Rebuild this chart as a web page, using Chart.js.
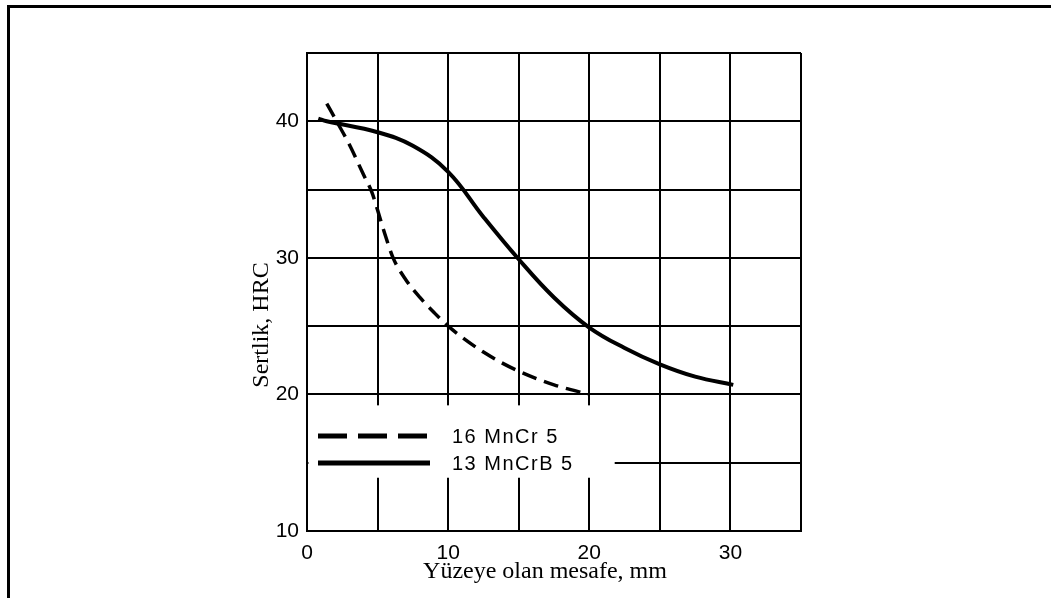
<!DOCTYPE html>
<html>
<head>
<meta charset="utf-8">
<script src="https://cdn.jsdelivr.net/npm/chart.js@4.4.1/dist/chart.umd.min.js"></script>
<style>
  html, body { margin: 0; padding: 0; background: #fff; }
  #wrap { position: relative; width: 1051px; height: 598px; overflow: hidden; }
  #frame { position: absolute; left: 7px; top: 5px; right: -10px; bottom: -10px;
           border-top: 3px solid #000; border-left: 3px solid #000; pointer-events: none; }
  canvas { position: absolute; left: 0; top: 0; }
</style>
</head>
<body>
<div id="wrap">
  <canvas id="c" width="1051" height="598"></canvas>
  <div id="frame"></div>
</div>
<script>
// ---- data ----
const xTitle = 'Yüzeye olan mesafe, mm';
const yTitle = 'Sertlik, HRC';
const seriesNames = ['16 MnCr 5', '13 MnCrB 5'];

const mncrX = [1.4, 2.1, 3, 4, 4.6, 5, 5.5, 6.1, 7, 8, 9, 10, 12.5, 15, 17.5, 20];
const mncrY = [41.3, 40.0, 38.3, 36.1, 34.8, 33.5, 31.8, 30.0, 28.4, 27.1, 26.0, 25.0, 23.1, 21.7, 20.7, 20.0];

const mncrbX = [0.8, 1.4, 5, 7.5, 10, 12.5, 15, 17.5, 20, 22.5, 25, 27.5, 30.2];
const mncrbY = [40.2, 40.0, 39.2, 38.2, 36.3, 33.0, 29.9, 27.1, 24.9, 23.4, 22.2, 21.3, 20.7];

const xTickLabels = [0, 10, 20, 30];
const yTickLabels = [10, 20, 30, 40];

// ---- build ----
const toPts = (xs, ys) => xs.map((v, i) => ({ x: v, y: ys[i] }));

const insideLegend = {
  id: 'insideLegend',
  beforeDatasetsDraw(chart) {
    const { ctx, chartArea: a, scales: { x, y } } = chart;
    const left = a.left + 1.5;
    const right = x.getPixelForValue(21.8);
    const top = y.getPixelForValue(19.2);
    const bottom = y.getPixelForValue(13.9);
    ctx.save();
    ctx.fillStyle = '#fff';
    ctx.fillRect(left, top, right - left, bottom - top);
    ctx.restore();
  },
  afterDatasetsDraw(chart) {
    const { ctx, chartArea: a } = chart;
    const rows = [a.top + 383, a.top + 410];
    const x0 = a.left + 11, x1 = a.left + 123, tx = a.left + 145;
    ctx.save();
    chart.data.datasets.forEach((ds, i) => {
      ctx.beginPath();
      ctx.lineWidth = 5;
      ctx.strokeStyle = '#000';
      ctx.lineCap = 'butt';
      ctx.setLineDash(i === 0 ? [29, 11] : []);
      ctx.moveTo(x0, rows[i]);
      ctx.lineTo(x1, rows[i]);
      ctx.stroke();
      ctx.setLineDash([]);
      ctx.fillStyle = '#000';
      ctx.font = '20px "Liberation Sans", Arial, sans-serif';
      ctx.textBaseline = 'middle';
      ctx.textAlign = 'left';
      if ('letterSpacing' in ctx) ctx.letterSpacing = '1.5px';
      ctx.fillText(ds.label, tx, rows[i] + 1);
    });
    ctx.restore();
  },
  afterDraw(chart) {
    const { ctx, chartArea: a } = chart;
    ctx.save();
    ctx.fillStyle = '#000';
    ctx.font = '24px "Liberation Serif", "Times New Roman", serif';
    ctx.textAlign = 'center';
    ctx.textBaseline = 'middle';
    ctx.fillText(xTitle, a.left + 238, a.bottom + 41);
    ctx.translate(a.left - 45, a.top + 272);
    ctx.rotate(-Math.PI / 2);
    ctx.fillText(yTitle, 0, 0);
    ctx.restore();
  }
};

new Chart(document.getElementById('c'), {
  type: 'line',
  data: {
    datasets: [
      {
        label: seriesNames[0],
        data: toPts(mncrX, mncrY),
        borderColor: '#000',
        borderWidth: 3.5,
        borderDash: [15, 8],
        pointRadius: 0,
        fill: false,
        cubicInterpolationMode: 'monotone'
      },
      {
        label: seriesNames[1],
        data: toPts(mncrbX, mncrbY),
        borderColor: '#000',
        borderWidth: 4,
        pointRadius: 0,
        fill: false,
        tension: 0.4
      }
    ]
  },
  options: {
    responsive: false,
    animation: false,
    devicePixelRatio: 1,
    layout: { padding: { left: 0, top: 53, right: 250, bottom: 0 } },
    plugins: { legend: { display: false }, tooltip: { enabled: false } },
    scales: {
      x: {
        type: 'linear',
        min: 0, max: 35,
        afterFit(s) { s.height = 67; },
        ticks: {
          stepSize: 5,
          padding: 10,
          color: '#000',
          font: { family: '"Liberation Sans", Arial, sans-serif', size: 21 },
          maxRotation: 0,
          autoSkip: false,
          callback: v => (xTickLabels.includes(v) ? String(v) : '')
        },
        grid: { color: '#000', lineWidth: 2, drawTicks: false },
        border: { display: true, color: '#000', width: 2 }
      },
      y: {
        type: 'linear',
        min: 10, max: 45,
        afterFit(s) { s.width = 307; },
        ticks: {
          stepSize: 5,
          padding: 8,
          color: '#000',
          font: { family: '"Liberation Sans", Arial, sans-serif', size: 21 },
          autoSkip: false,
          callback: v => (yTickLabels.includes(v) ? String(v) : '')
        },
        grid: { color: '#000', lineWidth: 2, drawTicks: false },
        border: { display: true, color: '#000', width: 2 }
      }
    }
  },
  plugins: [insideLegend]
});
</script>
</body>
</html>
